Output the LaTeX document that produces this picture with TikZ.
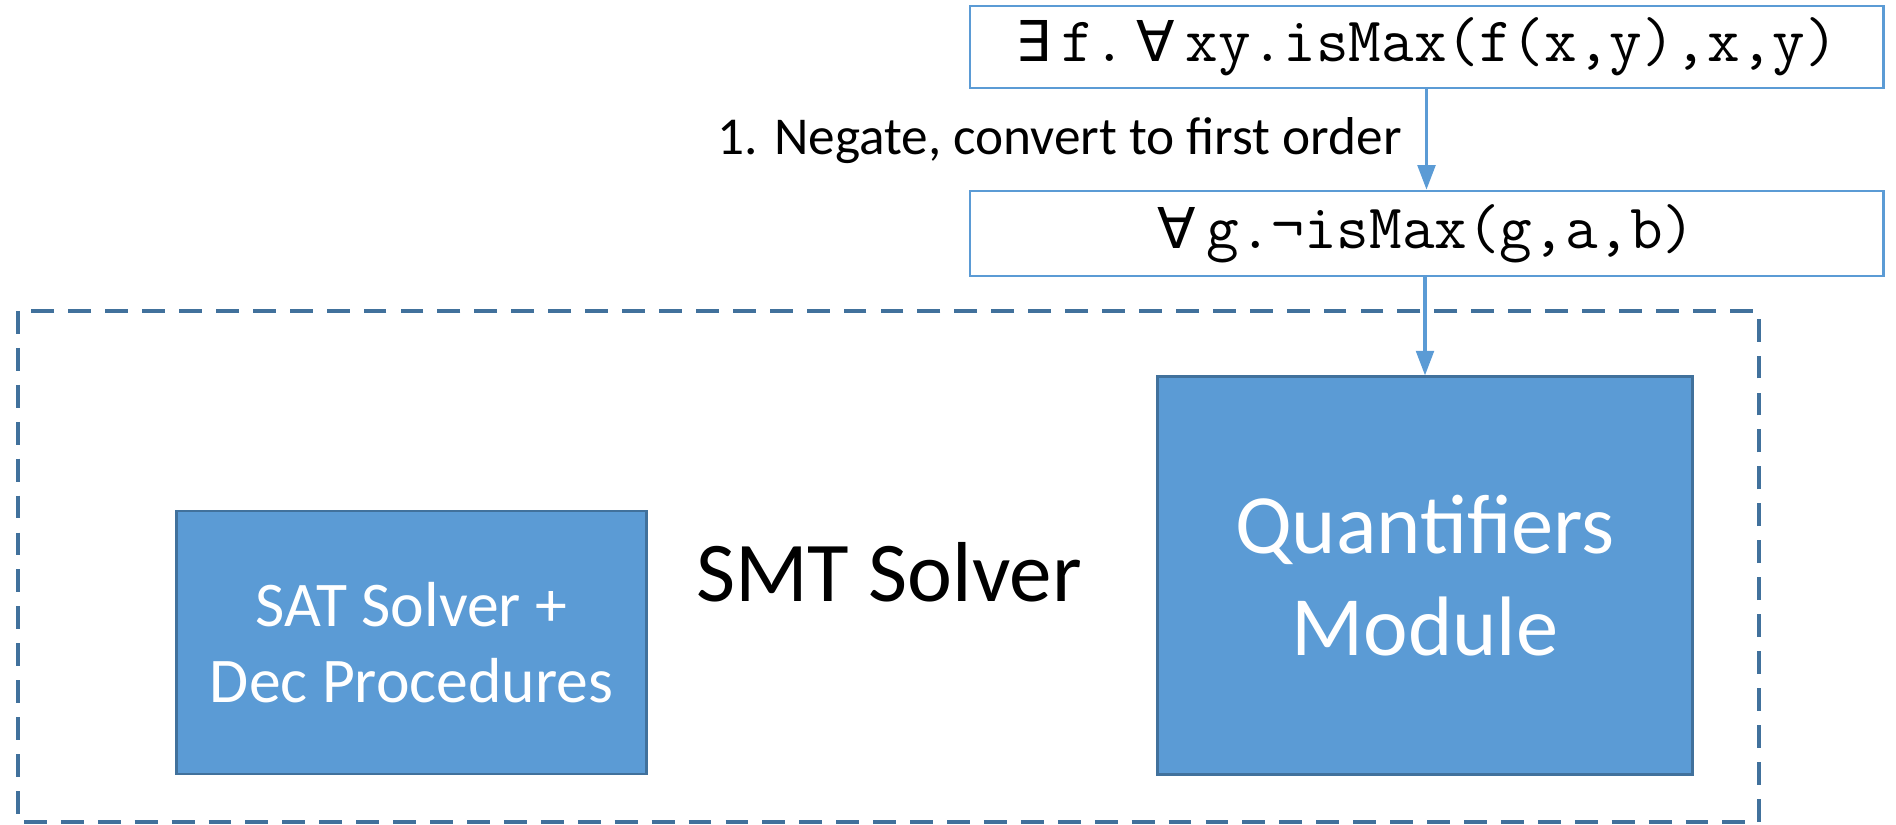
\documentclass[tikz,border=0pt]{standalone}
\usepackage{fontspec}
\setmainfont{Carlito}
\newfontfamily\quantfont{DejaVu Sans}
\usetikzlibrary{arrows.meta}

\definecolor{boxblue}{HTML}{5B9BD5}
\definecolor{edgeblue}{HTML}{41719C}

\newcommand{\qforall}{{\quantfont\fontsize{16}{18}\selectfont ∀}\,}
\newcommand{\qexists}{{\quantfont\fontsize{16}{18}\selectfont ∃}\,}

\tikzset{
  formula/.style={draw=boxblue, line width=0.7pt, fill=white, minimum width=9.13cm,
    font=\ttfamily\fontsize{18}{20}\selectfont},
  module/.style={draw=edgeblue, line width=0.8pt, fill=boxblue, text=white, align=center},
  flow/.style={draw=boxblue, line width=1pt, -{Triangle[length=7pt,width=5pt]}},
}

\begin{document}
\begin{tikzpicture}[x=0.01cm, y=-0.01cm]
  \useasboundingbox (0,0) rectangle (1896,825);

  % solver frame
  \draw[edgeblue, line width=1.4pt, dash pattern=on 6.5pt off 4pt] (18,311) rectangle (1759,822);
  \node (smt) at (889,572) {\fontsize{24.2}{28}\selectfont SMT Solver};

  % modules
  \node[module, minimum width=4.69cm, minimum height=2.63cm,
        font=\fontsize{18.1}{21.5}\selectfont] (sat) at (411.5,642.5) {SAT Solver +\\Dec Procedures};
  \node[module, minimum width=5.34cm, minimum height=3.97cm,
        font=\fontsize{24}{29}\selectfont] (quant) at (1425,575.5) {Quantifiers\\Module};

  % formulas
  \node[formula, minimum height=0.82cm] (exists) at (1426.5,47)
    {\qexists{}f.\,\qforall{}xy.isMax(f(x,y),x,y)};
  \node[formula, minimum height=0.85cm] (negated) at (1426.5,233.5)
    {\qforall{}g.¬isMax(g,a,b)};

  \draw[flow] (exists) -- (negated);
  \draw[flow] (negated.south -| quant.north) -- (quant.north);
  \node[anchor=east, font=\fontsize{15.15}{18}\selectfont] (step1) at (1414,141)
    {1. Negate, convert to first order};
\end{tikzpicture}
\end{document}
